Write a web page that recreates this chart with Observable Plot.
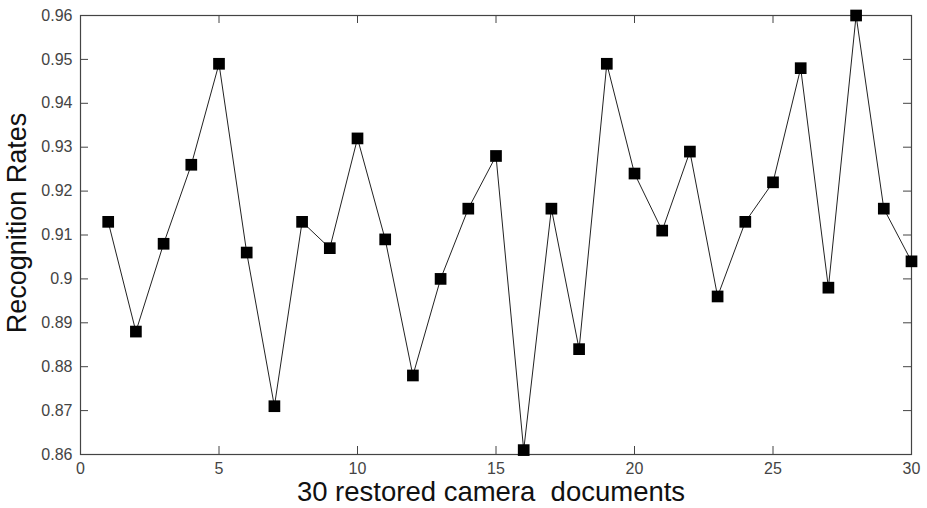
<!DOCTYPE html>
<html>
<head>
<meta charset="utf-8">
<script src="https://cdn.jsdelivr.net/npm/d3@7"></script>
<script src="https://cdn.jsdelivr.net/npm/@observablehq/plot@0.6"></script>
<style>
  html, body { margin: 0; padding: 0; background: #fff; }
  #chart { width: 927px; height: 508px; }
</style>
</head>
<body>
<div id="chart"></div>
<script>
const docs = [1,2,3,4,5,6,7,8,9,10,11,12,13,14,15,16,17,18,19,20,21,22,23,24,25,26,27,28,29,30];
const rates = [0.913,0.888,0.908,0.926,0.949,0.906,0.871,0.913,0.907,0.932,0.909,0.878,0.900,0.916,0.928,0.861,0.916,0.884,0.949,0.924,0.911,0.929,0.896,0.913,0.922,0.948,0.898,0.960,0.916,0.904];
const xTicks = [0,5,10,15,20,25,30];
const yTicks = [0.86,0.87,0.88,0.89,0.9,0.91,0.92,0.93,0.94,0.95,0.96];
const xTitle = "30 restored camera\u00a0 documents";
const yTitle = "Recognition Rates";

const data = docs.map((d, i) => ({doc: d, rate: rates[i]}));

const W = 927, H = 508;
const mL = 80, mR = 16, mT = 15, mB = 54;
const fw = W - mL - mR, fh = H - mT - mB;
const tl = 8;

const chart = Plot.plot({
  width: W,
  height: H,
  marginLeft: mL,
  marginRight: mR,
  marginTop: mT,
  marginBottom: mB,
  style: {fontFamily: "'Liberation Sans', Arial, sans-serif", background: "#fff", color: "#333"},
  x: {domain: [0, 30]},
  y: {domain: [0.86, 0.96]},
  marks: [
    Plot.axisX(xTicks, {tickSize: 0, tickPadding: 8, fontSize: 16, fill: "#444", label: null}),
    Plot.axisY(yTicks, {tickSize: 0, tickPadding: 8, fontSize: 16, fill: "#444", label: null, tickFormat: d => String(d)}),
    Plot.tickX(xTicks, {x: d => d, insetTop: fh - tl, stroke: "#444", strokeWidth: 1}),
    Plot.tickX(xTicks, {x: d => d, insetBottom: fh - tl, stroke: "#444", strokeWidth: 1}),
    Plot.tickY(yTicks, {y: d => d, insetRight: fw - tl, stroke: "#444", strokeWidth: 1}),
    Plot.tickY(yTicks, {y: d => d, insetLeft: fw - tl, stroke: "#444", strokeWidth: 1}),
    Plot.frame({stroke: "#444", strokeWidth: 1.2}),
    Plot.line(data, {x: "doc", y: "rate", stroke: "#222", strokeWidth: 1}),
    Plot.dot(data, {x: "doc", y: "rate", symbol: "square", r: 6.6, fill: "#000", stroke: "none"}),
    Plot.text([xTitle], {frameAnchor: "bottom", dy: 38, dx: -5, fontSize: 27.5, fill: "#111", lineAnchor: "middle", textAnchor: "middle"}),
    Plot.text([yTitle], {frameAnchor: "left", dx: -63, dy: -12, rotate: -90, fontSize: 27, fill: "#111", lineAnchor: "middle", textAnchor: "middle"})
  ]
});
document.getElementById("chart").appendChild(chart);
</script>
</body>
</html>
